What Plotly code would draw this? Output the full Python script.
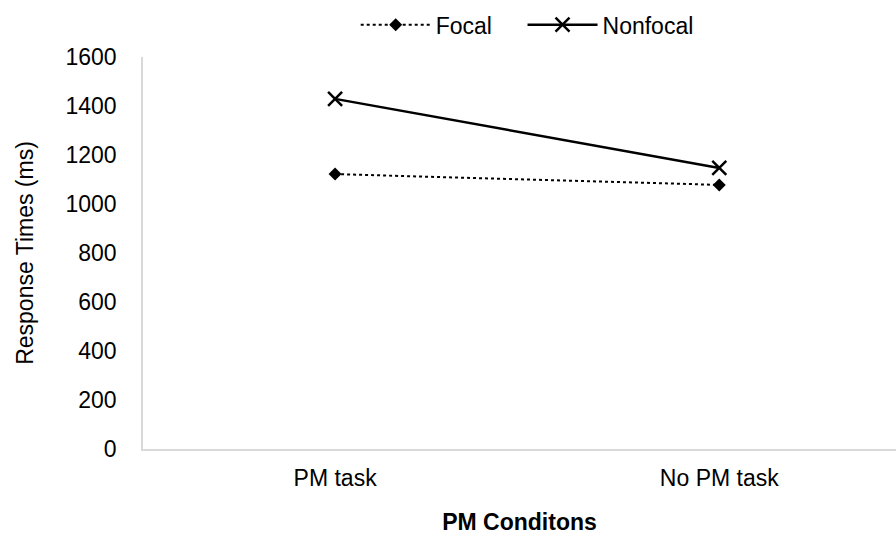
import plotly.graph_objects as go

# Response times by PM condition
conditions = ["PM task", "No PM task"]
focal_rt = [1122, 1078]
nonfocal_rt = [1429, 1147]
y_ticks = [0, 200, 400, 600, 800, 1000, 1200, 1400, 1600]

FONT = "Liberation Sans, Arial, sans-serif"
GAP = "\u00a0" * 4  # extra room between the two legend entries

fig = go.Figure()
fig.add_trace(go.Scatter(
    x=conditions, y=focal_rt, name="Focal" + GAP, mode="lines+markers",
    line=dict(color="black", width=2, dash="dot"),
    marker=dict(symbol="diamond", size=10, color="black"),
))
fig.add_trace(go.Scatter(
    x=conditions, y=nonfocal_rt, name="Nonfocal", mode="lines+markers",
    line=dict(color="black", width=2.5),
    marker=dict(symbol="x-thin", size=14, color="black",
                line=dict(color="black", width=2.5)),
))

fig.update_layout(
    width=896, height=537,
    margin=dict(l=143, r=0, t=57, b=88, autoexpand=False),
    paper_bgcolor="white", plot_bgcolor="white",
    font=dict(family=FONT, size=23, color="black"),
    showlegend=True,
    legend=dict(orientation="h", x=0.397, xref="container", xanchor="left",
                y=0.994, yref="container", yanchor="top",
                font=dict(size=23), itemwidth=70),
    xaxis=dict(
        range=[-0.5, 1.46], showline=True, linecolor="#d9d9d9", linewidth=1.5,
        showgrid=False, zeroline=False, ticks="outside", ticklen=8,
        tickcolor="rgba(0,0,0,0)",
        title=dict(text="<b>PM Conditons</b>", standoff=24, font=dict(size=23)),
    ),
    yaxis=dict(
        range=[0, 1600], tickvals=y_ticks, showline=True, linecolor="#d9d9d9",
        linewidth=1.5, showgrid=False, zeroline=False, ticks="outside",
        ticklen=20, tickcolor="rgba(0,0,0,0)",
        title=dict(text="Response Times (ms)", standoff=25, font=dict(size=23)),
    ),
)

fig.write_html("out.html")
